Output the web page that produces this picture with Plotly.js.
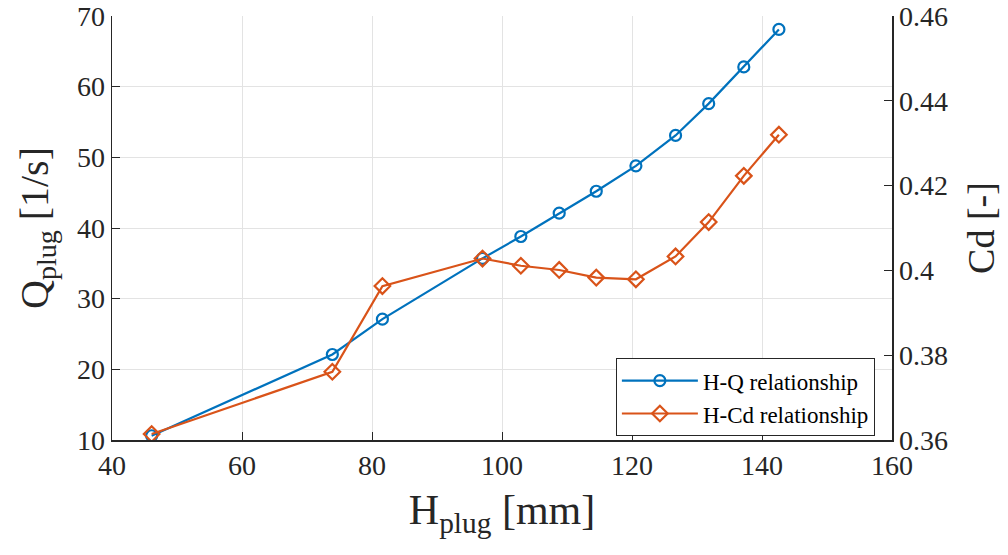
<!DOCTYPE html>
<html>
<head>
<meta charset="utf-8">
<script src="https://cdn.plot.ly/plotly-3.0.1.min.js"></script>
<style>html,body{margin:0;padding:0;background:#fff;}#chart{width:1008px;height:555px;}</style>
</head>
<body>
<div id="chart"></div>
<script>
const hValues = [46.1, 73.9, 81.6, 97.0, 102.9, 108.8, 114.5, 120.6, 126.7, 131.8, 137.2, 142.6];
const qValues = [10.6, 22.1, 27.1, 35.7, 38.8, 42.1, 45.2, 48.8, 53.1, 57.6, 62.8, 68.1];
const cdValues = [0.3614, 0.3761, 0.3963, 0.4028, 0.4011, 0.4001, 0.3983, 0.3979, 0.4033, 0.4114, 0.4223, 0.4320];
const seriesNames = ['H-Q relationship', 'H-Cd relationship'];
const xTicks = [40, 60, 80, 100, 120, 140, 160];
const yTicks = [10, 20, 30, 40, 50, 60, 70];
const y2Ticks = [0.36, 0.38, 0.40, 0.42, 0.44, 0.46];
const y2TickText = ['0.36', '0.38', '0.4', '0.42', '0.44', '0.46'];

const font = 'Liberation Serif';

const traces = [
  {x: hValues, y: qValues, name: seriesNames[0], type: 'scatter', mode: 'lines+markers',
   line: {color: '#0072BD', width: 2.2},
   marker: {symbol: 'circle-open', size: 11, color: '#0072BD', line: {width: 2.2}}},
  {x: hValues, y: cdValues, name: seriesNames[1], type: 'scatter', mode: 'lines+markers', yaxis: 'y2',
   line: {color: '#D95319', width: 2.2},
   marker: {symbol: 'diamond-open', size: 12, color: '#D95319', line: {width: 2.2}}}
];

const layout = {
  width: 1008, height: 555,
  margin: {l: 112, r: 116, t: 16, b: 115},
  paper_bgcolor: '#fff', plot_bgcolor: '#fff',
  font: {family: font, color: '#262626', size: 28},
  showlegend: true,
  legend: {x: 0.646, y: 0.193, xanchor: 'left', yanchor: 'top', bgcolor: '#fff',
           bordercolor: '#262626', borderwidth: 1, font: {family: font, size: 23, color: '#000'},
           tracegroupgap: 0, itemwidth: 76},
  xaxis: {range: [40, 160], tickvals: xTicks, ticktext: xTicks.map(String),
          showgrid: true, gridcolor: '#e3e3e3', gridwidth: 1,
          showline: true, linecolor: '#262626', linewidth: 1.5, mirror: false,
          ticks: 'inside', ticklen: 8, tickcolor: '#262626', zeroline: false,
          tickfont: {family: font, size: 28, color: '#262626'},
          title: {text: 'H<sub>plug</sub> [mm]', font: {family: font, size: 42, color: '#262626'}, standoff: 14}},
  yaxis: {range: [10, 70], tickvals: yTicks, ticktext: yTicks.map(String),
          showgrid: true, gridcolor: '#e3e3e3', gridwidth: 1,
          showline: true, linecolor: '#262626', linewidth: 1.5,
          ticks: 'inside', ticklen: 8, tickcolor: '#262626', zeroline: false,
          tickfont: {family: font, size: 28, color: '#262626'},
          title: {text: 'Q<sub>plug</sub> [1/s]', font: {family: font, size: 40, color: '#262626'}, standoff: 16}},
  yaxis2: {range: [0.36, 0.46], overlaying: 'y', side: 'right', tickvals: y2Ticks, ticktext: y2TickText,
           showgrid: false, showline: true, linecolor: '#262626', linewidth: 1.5,
           ticks: 'inside', ticklen: 8, tickcolor: '#262626', zeroline: false,
           tickfont: {family: font, size: 28, color: '#262626'},
           title: {text: 'Cd [-]', font: {family: font, size: 38, color: '#262626'}, standoff: 20}}
};

Plotly.newPlot('chart', traces, layout, {displayModeBar: false, staticPlot: true});
</script>
</body>
</html>
